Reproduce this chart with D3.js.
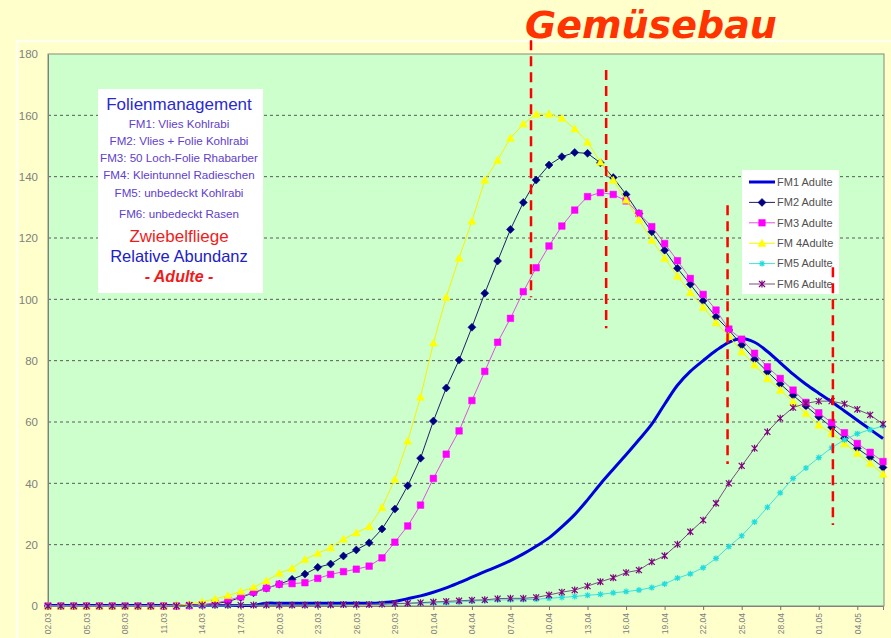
<!DOCTYPE html>
<html><head><meta charset="utf-8">
<script src="https://cdn.jsdelivr.net/npm/d3@7"></script>
<style>body{margin:0;background:#ffffcc}svg{display:block}</style>
</head><body><svg id="c" width="891" height="638"></svg>
<script>
// Daily observation dates
const dates = [
  "02.03","03.03","04.03","05.03","06.03","07.03","08.03","09.03","10.03","11.03",
  "12.03","13.03","14.03","15.03","16.03","17.03","18.03","19.03","20.03","21.03",
  "22.03","23.03","24.03","25.03","26.03","27.03","28.03","29.03","30.03","31.03",
  "01.04","02.04","03.04","04.04","05.04","06.04","07.04","08.04","09.04","10.04",
  "11.04","12.04","13.04","14.04","15.04","16.04","17.04","18.04","19.04","20.04",
  "21.04","22.04","23.04","24.04","25.04","26.04","27.04","28.04","29.04","30.04",
  "01.05","02.05","03.05","04.05","05.05","06.05"
];
const tickLabels = ["02.03","05.03","08.03","11.03","14.03","17.03","20.03","23.03","26.03","29.03",
  "01.04","04.04","07.04","10.04","13.04","16.04","19.04","22.04","25.04","28.04","01.05","04.05"];
const yTicks = [0,20,40,60,80,100,120,140,160,180];

// Relative abundance of adult onion flies per film management variant
const fm1 = [0.2,0.2,0.2,0.2,0.2,0.2,0.2,0.2,0.2,0.2,0.2,0.2,0.2,0.2,0.2,0.2,0.2,
  0.9,0.9,0.9,0.9,0.9,0.9,0.9,0.9,0.9,
  1.1,1.5,2.4,3.3,4.5,5.9,7.6,9.4,11.2,12.9,14.8,17.0,19.5,22.2,25.8,29.8,34.6,39.8,44.6,49.3,
  54.2,59.3,65.8,72.0,76.5,80.0,83.3,86.0,87.2,86.0,83.0,79.3,75.6,72.3,69.4,66.6,63.6,60.6,57.6,54.6];
const fm2 = [0,0,0,0,0,0,0,0,0,0,0.1,0.2,0.4,0.8,1.4,2.8,4.3,5.8,7.1,8.7,
  10.4,12.6,13.7,16.3,18.3,20.6,25.1,31.6,39.2,48.2,60.3,71.1,80.2,90.9,102.0,112.5,122.8,131.6,138.9,143.8,
  146.5,147.9,147.6,144.5,139.7,134.2,128.0,122.0,116.0,110.1,104.9,99.5,94.3,90.0,85.1,80.5,76.4,72.4,68.7,65.2,
  61.7,58.3,54.7,51.4,48.5,45.2];
const fm3 = [0,0,0,0,0,0,0,0,0,0,0,0.1,0.4,0.9,1.9,3.0,4.5,5.8,7.1,7.3,
  7.6,9.0,10.3,11.2,12.0,13.0,15.7,20.8,26.1,32.9,41.6,49.5,57.1,67.0,76.5,86.0,93.8,102.5,110.3,117.4,
  123.9,129.1,133.5,134.8,134.2,132.1,128.0,123.7,118.2,112.6,106.8,101.6,96.5,90.3,87.0,82.4,78.0,74.2,70.4,66.4,
  63.0,59.8,56.5,53.0,50.1,47.1];
const fm4 = [0,0,0,0,0,0,0,0,0,0.1,0.3,0.6,1.4,2.3,3.4,4.7,6.1,8.2,10.7,12.3,
  15.2,17.2,19.0,21.8,23.9,25.9,32.1,41.3,53.8,68.1,85.8,100.7,113.5,125.5,138.9,145.4,152.6,157.2,160.4,160.4,
  159.1,155.6,151.3,144.8,138.9,132.4,125.9,119.3,113.4,107.6,102.2,97.4,92.4,88.0,82.9,78.6,74.2,70.4,66.6,62.8,
  59.0,56.3,53.0,49.8,46.5,43.0];
const fm5 = [0,0,0,0,0,0,0,0,0,0,0,0,0,0,0,0.2,0.2,0.2,0.2,0.2,
  0.2,0.2,0.2,0.3,0.4,0.5,0.6,0.7,0.8,0.9,1.0,1.1,1.3,1.6,1.8,2.0,2.0,2.1,2.2,2.5,
  2.8,3.1,3.5,3.8,4.3,4.7,5.2,6.0,7.2,9.1,10.5,12.5,15.5,19.4,22.9,27.4,32.2,36.9,41.6,45.0,
  48.4,51.6,54.2,56.2,57.5,58.7];
const fm6 = [0,0,0,0,0,0,0,0,0,0,0,0.3,0.3,0.3,0.3,0.3,0.3,0.3,0.3,0.3,
  0.3,0.4,0.4,0.5,0.5,0.5,0.6,0.8,0.9,1.1,1.3,1.5,1.7,1.9,2.0,2.4,2.5,2.5,2.8,3.6,
  4.5,5.2,6.5,7.9,9.2,10.9,11.7,14.4,16.4,20.1,24.2,28.0,33.5,40.0,45.7,51.4,56.8,61.2,64.7,66.1,
  66.8,66.8,65.9,64.1,62.3,59.3];

const seriesNames = ["FM1 Adulte","FM2 Adulte","FM3 Adulte","FM 4Adulte","FM5 Adulte","FM6 Adulte"];
const infoLines = ["FM1: Vlies Kohlrabi","FM2: Vlies + Folie Kohlrabi","FM3: 50 Loch-Folie Rhabarber",
  "FM4: Kleintunnel Radieschen","FM5: unbedeckt Kohlrabi","FM6: unbedeckt Rasen"];

// Period markers (day index, upper value, lower value)
const periodMarks = [
  {day: 37.6, top: 184.5, bottom: 100.7},
  {day: 43.45, top: 174.8, bottom: 90.6},
  {day: 52.9, top: 130.7, bottom: 46.3},
  {day: 61.1, top: 110.5, bottom: 26.4}
];

const svg = d3.select("#c");
const W = 891, H = 638;
const plot = {l: 48, r: 883, t: 54, b: 606};
const x = d3.scaleLinear().domain([0, dates.length - 1]).range([plot.l, plot.r]);
const y = d3.scaleLinear().domain([0, 180]).range([plot.b, plot.t]);
const AR = "Liberation Sans, Arial, sans-serif";

svg.append("rect").attr("width", W).attr("height", H).attr("fill", "#ffffcc");
// chart area outline
svg.append("rect").attr("x", 17).attr("y", 41).attr("width", 900).attr("height", 620)
  .attr("fill", "#ffffcc").attr("stroke", "#fffff0").attr("stroke-width", 2.5);

// plot area
svg.append("rect").attr("x", plot.l).attr("y", plot.t).attr("width", plot.r - plot.l + 1)
  .attr("height", plot.b - plot.t).attr("fill", "#ccffcc");

// gridlines
svg.append("g").selectAll("line").data(yTicks.filter(d => d > 0 && d < 180)).join("line")
  .attr("x1", plot.l).attr("x2", plot.r + 1).attr("y1", d => y(d)).attr("y2", d => y(d))
  .attr("stroke", "#5a5a5a").attr("stroke-width", 1).attr("stroke-dasharray", "3,3");

// plot border
svg.append("rect").attr("x", plot.l).attr("y", plot.t).attr("width", plot.r - plot.l + 1)
  .attr("height", plot.b - plot.t).attr("fill", "none").attr("stroke", "#8a8a7a").attr("stroke-width", 1);

// y axis
const yAxis = d3.axisLeft(y).tickValues(yTicks).tickSize(0).tickPadding(10);
const gy = svg.append("g").attr("transform", `translate(${plot.l},0)`).call(yAxis);
gy.select(".domain").attr("stroke", "#808080");
gy.selectAll("text").attr("font-family", AR).attr("font-size", 11.5).attr("fill", "#808080");

// x axis
const tickIdx = tickLabels.map(t => dates.indexOf(t));
const xAxis = d3.axisBottom(x).tickValues(tickIdx).tickFormat(i => dates[i]).tickSize(4).tickPadding(3);
const gx = svg.append("g").attr("transform", `translate(0,${plot.b})`).call(xAxis);
gx.select(".domain").attr("stroke", "#808080");
gx.selectAll(".tick line").attr("stroke", "#707070");
gx.selectAll("text").attr("font-family", AR).attr("font-size", 8.5).attr("fill", "#808080")
  .attr("text-anchor", "end").attr("transform", "rotate(-90)")
  .attr("x", -7).attr("y", 0).attr("dy", "0.33em");

// marker shapes
function markerPath(kind) {
  switch (kind) {
    case "diamond": return "M0,-4L4,0L0,4L-4,0Z";
    case "square": return "M-3.3,-3.3H3.3V3.3H-3.3Z";
    case "triangle": return "M0,-4L4,3.2H-4Z";
    case "asterisk": return "M-3,0H3M0,-3V3M-2.2,-2.2L2.2,2.2M-2.2,2.2L2.2,-2.2";
    case "star": return "M-3,-3L3,3M-3,3L3,-3M0,-3.5V3.5";
  }
  return null;
}

const series = [
  {name: seriesNames[0], values: fm1, color: "#0000dd", line: "#0000dd", width: 3, marker: null},
  {name: seriesNames[1], values: fm2, color: "#000080", line: "#20206a", width: 1, marker: "diamond"},
  {name: seriesNames[2], values: fm3, color: "#ff00ff", line: "#e050e0", width: 1, marker: "square"},
  {name: seriesNames[3], values: fm4, color: "#ffff00", line: "#f4f400", width: 1, marker: "triangle"},
  {name: seriesNames[4], values: fm5, color: "#22dddd", line: "#40e0e0", width: 1, marker: "asterisk"},
  {name: seriesNames[5], values: fm6, color: "#800080", line: "#7a507a", width: 1, marker: "star"}
];

const gSeries = svg.append("g");
series.forEach(s => {
  const line = d3.line().x((d, i) => x(i)).y(d => y(d))
    .curve(s.marker ? d3.curveLinear : d3.curveCatmullRom.alpha(0.5));
  gSeries.append("path").datum(s.values).attr("d", line)
    .attr("fill", "none").attr("stroke", s.line).attr("stroke-width", s.width).attr("stroke-linejoin", "round");
  if (s.marker) {
    const stroked = s.marker === "asterisk" || s.marker === "star";
    gSeries.append("g").selectAll("path").data(s.values).join("path")
      .attr("transform", (d, i) => `translate(${x(i)},${y(d)})`)
      .attr("d", markerPath(s.marker))
      .attr("fill", stroked ? "none" : s.color)
      .attr("stroke", s.color).attr("stroke-width", stroked ? 1.2 : 0.5);
  }
});

// info box
const info = svg.append("g");
info.append("rect").attr("x", 98).attr("y", 89).attr("width", 165).attr("height", 204).attr("fill", "#ffffff");
const cx = 179;
info.append("text").attr("x", cx).attr("y", 110).attr("text-anchor", "middle")
  .attr("font-family", AR).attr("font-size", 17).attr("fill", "#2a2ad0").text("Folienmanagement");
const infoY = [128, 145, 162, 179, 197, 218];
info.selectAll("text.fm").data(infoLines).join("text").attr("class", "fm")
  .attr("x", cx).attr("y", (d, i) => infoY[i]).attr("text-anchor", "middle")
  .attr("font-family", AR).attr("font-size", 11.6).attr("fill", "#6040cc").text(d => d);
info.append("text").attr("x", cx).attr("y", 242).attr("text-anchor", "middle")
  .attr("font-family", AR).attr("font-size", 17).attr("fill", "#ee1c1c").text("Zwiebelfliege");
info.append("text").attr("x", cx).attr("y", 262).attr("text-anchor", "middle")
  .attr("font-family", AR).attr("font-size", 16.5).attr("fill", "#2020c8").text("Relative Abundanz");
info.append("text").attr("x", cx).attr("y", 282).attr("text-anchor", "middle")
  .attr("font-family", AR).attr("font-size", 16).attr("font-weight", "bold").attr("font-style", "italic")
  .attr("fill", "#ee1c1c").text("- Adulte -");

// legend
const lg = svg.append("g");
lg.append("rect").attr("x", 742).attr("y", 170).attr("width", 97).attr("height", 124).attr("fill", "#ffffff");
series.forEach((s, i) => {
  const ly = 182 + i * 20.4;
  lg.append("line").attr("x1", 749).attr("x2", 775).attr("y1", ly).attr("y2", ly)
    .attr("stroke", s.line).attr("stroke-width", s.width);
  if (s.marker) {
    const stroked = s.marker === "asterisk" || s.marker === "star";
    lg.append("path").attr("transform", `translate(762,${ly})`).attr("d", markerPath(s.marker))
      .attr("fill", stroked ? "none" : s.color).attr("stroke", s.color).attr("stroke-width", stroked ? 1.2 : 0.5);
  }
  lg.append("text").attr("x", 777).attr("y", ly).attr("dy", "0.35em")
    .attr("font-family", AR).attr("font-size", 11).attr("fill", "#505050").text(s.name);
});

// period markers
svg.append("g").selectAll("line").data(periodMarks).join("line")
  .attr("x1", d => x(d.day)).attr("x2", d => x(d.day))
  .attr("y1", d => y(d.top)).attr("y2", d => y(d.bottom))
  .attr("stroke", "#ff0000").attr("stroke-width", 2.5).attr("stroke-dasharray", "10,6");

// heading
svg.append("text").attr("x", 525).attr("y", 38)
  .attr("font-family", "DejaVu Sans, Verdana, sans-serif").attr("font-size", 38)
  .attr("font-weight", "bold").attr("font-style", "italic").attr("fill", "#ff3300").text("Gemüsebau");
</script></body></html>
